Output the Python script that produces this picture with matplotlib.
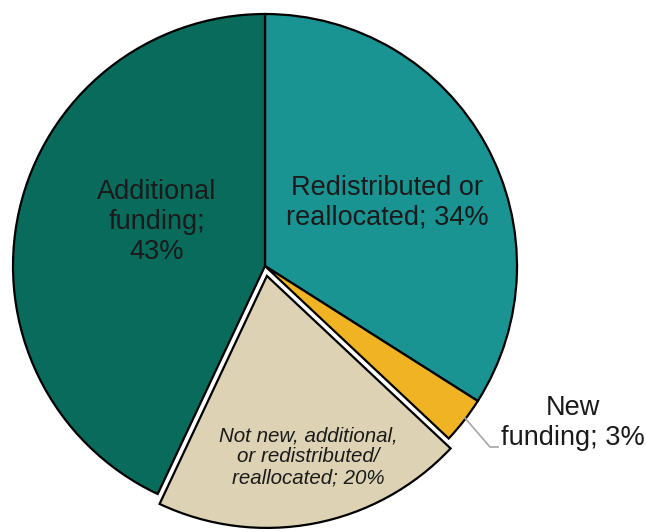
import matplotlib
matplotlib.use("Agg")
import matplotlib.pyplot as plt

categories = ["Redistributed or\nreallocated; 34%", "New\nfunding; 3%",
              "Not new, additional,\nor redistributed/\nreallocated; 20%",
              "Additional\nfunding;\n43%"]
values = [34, 3, 20, 43]
colors = ["#1a9393", "#f0b323", "#ddd3b4", "#086b5c"]
explode = [0, 0, 0.04, 0]

W, H = 646, 532
CX, CY, R = 265, 266, 252

def px(x, y):
    return (x - CX) / R, (CY - y) / R

plt.rcParams['font.family'] = ['Liberation Sans', 'DejaVu Sans']
fig = plt.figure(figsize=(W / 100, H / 100), dpi=100)
ax = fig.add_axes([0, 0, 1, 1])
ax.pie(values, colors=colors, explode=explode, startangle=90, counterclock=False,
       radius=1, wedgeprops=dict(edgecolor="black", linewidth=1.6))
ax.set_xlim(-CX / R, (W - CX) / R)
ax.set_ylim(-(H - CY) / R, CY / R)
ax.set_aspect('auto')
ax.axis('off')

tc = "#1a1a1a"
ax.text(*px(387, 203), categories[0], ha='center', va='center', fontsize=19.5,
        color=tc, linespacing=1.2)
ax.text(*px(573, 423), categories[1], ha='center', va='center', fontsize=19.5,
        color=tc, linespacing=1.2)
ax.text(*px(308, 457), categories[2], ha='center', va='center', fontsize=14.8,
        color=tc, style='italic', linespacing=1.15)
ax.text(*px(157, 222), categories[3], ha='center', va='center', fontsize=19.5,
        color=tc, linespacing=1.2)

# leader line for small slice
lx = [px(465, 418)[0], px(490, 447)[0], px(498, 447)[0]]
ly = [px(465, 418)[1], px(490, 447)[1], px(498, 447)[1]]
ax.plot(lx, ly, color="#a6a6a6", linewidth=1.2)

fig.savefig("out.png", dpi=100)
